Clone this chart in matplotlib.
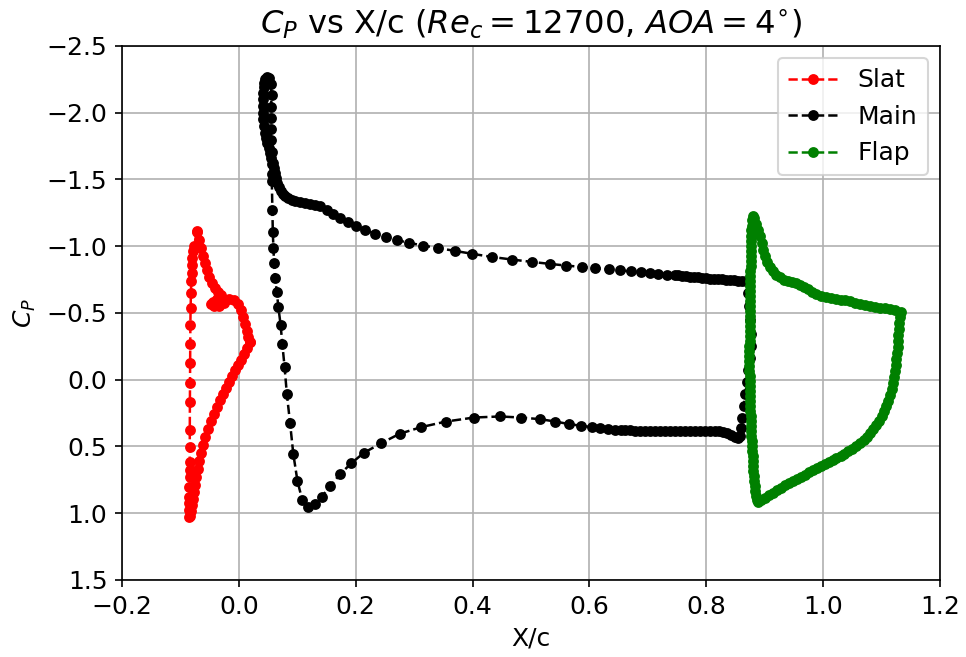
import matplotlib
matplotlib.use('Agg')
import matplotlib.pyplot as plt

# Slat: trailing edge -> lower curve -> stagnation -> dashed side -> suction peak -> back to TE
slat_x = [0.0194, 0.0143, 0.0092, 0.0041, -0.0010, -0.0061, -0.0112, -0.0164, -0.0215, -0.0266,
          -0.0317, -0.0368, -0.0419, -0.0470, -0.0521, -0.0572, -0.0606, -0.0641, -0.0675, -0.0700,
          -0.0726, -0.0743, -0.0760, -0.0777, -0.0794, -0.0811, -0.0828,
          -0.0845, -0.0845, -0.0845, -0.0845, -0.0845, -0.0843, -0.0842, -0.0840, -0.0840, -0.0840,
          -0.0838, -0.0836, -0.0834, -0.0832, -0.0830, -0.0826, -0.0820, -0.0815, -0.0810, -0.0806,
          -0.0800, -0.0790, -0.0770,
          -0.0715, -0.0709, -0.0675, -0.0641, -0.0606, -0.0572, -0.0538, -0.0504, -0.0453, -0.0402,
          -0.0351, -0.0300, -0.0368, -0.0436, -0.0470, -0.0419, -0.0334, -0.0249, -0.0164, -0.0078,
          -0.0010, 0.0041, 0.0075, 0.0109, 0.0135, 0.0160, 0.0194]
slat_cp = [-0.285, -0.240, -0.195, -0.150, -0.113, -0.075, -0.030, 0.015, 0.060, 0.105,
           0.150, 0.203, 0.255, 0.308, 0.368, 0.428, 0.488, 0.548, 0.608, 0.668,
           0.728, 0.788, 0.840, 0.893, 0.938, 0.983, 1.020,
           1.028, 0.975, 0.925, 0.875, 0.800, 0.725, 0.675, 0.613, 0.505, 0.375,
           0.167, 0.025, -0.125, -0.270, -0.413, -0.538, -0.650, -0.737, -0.800, -0.863,
           -0.913, -0.963, -1.000,
           -1.112, -1.110, -1.050, -0.990, -0.930, -0.878, -0.825, -0.773, -0.728, -0.690,
           -0.660, -0.638, -0.608, -0.585, -0.570, -0.555, -0.555, -0.578, -0.608, -0.600,
           -0.570, -0.525, -0.473, -0.420, -0.368, -0.323, -0.285]

# Main element: upper TE -> upper surface -> LE peak -> lower surface -> lower TE -> closing
main_x = [0.8678, 0.8610, 0.8542, 0.8474, 0.8406, 0.8337, 0.8269, 0.8201, 0.8133, 0.8065,
          0.7997, 0.7929, 0.7860, 0.7792, 0.7724, 0.7656, 0.7588, 0.7520, 0.7463, 0.7320,
          0.7179, 0.7038, 0.6877, 0.6707, 0.6526, 0.6327, 0.6101, 0.5872, 0.5607, 0.5317,
          0.5010, 0.4680, 0.4329, 0.3998, 0.3698, 0.3414, 0.3158, 0.2920, 0.2710, 0.2511,
          0.2324, 0.2153, 0.2000, 0.1869, 0.1727, 0.1613, 0.1501, 0.1387, 0.1302, 0.1216,
          0.1131, 0.1046, 0.0969, 0.0905, 0.0842, 0.0790, 0.0748, 0.0717, 0.0688, 0.0659,
          0.0637, 0.0620, 0.0603, 0.0581, 0.0557, 0.0535, 0.0511, 0.0489, 0.0467, 0.0450,
          0.0433, 0.0421, 0.0416, 0.0411, 0.0416, 0.0421, 0.0433, 0.0433, 0.0450, 0.0475,
          0.0509, 0.0543, 0.0560, 0.0552, 0.0543, 0.0543, 0.0552, 0.0569, 0.0569, 0.0564,
          0.0564, 0.0574, 0.0581, 0.0591, 0.0603, 0.0620, 0.0649, 0.0676, 0.0714, 0.0744,
          0.0782, 0.0821, 0.0876, 0.0932, 0.1003, 0.1083, 0.1182, 0.1302, 0.1416, 0.1566,
          0.1736, 0.1927, 0.2136, 0.2438, 0.2750, 0.3119, 0.3545, 0.4027, 0.4470, 0.4823,
          0.5147, 0.5419, 0.5646, 0.5862, 0.6043, 0.6186, 0.6315, 0.6441,
          0.6532, 0.6617, 0.6702, 0.6787, 0.6872, 0.6957, 0.7043, 0.7128, 0.7213, 0.7298,
          0.7383, 0.7468, 0.7554, 0.7639, 0.7724, 0.7809, 0.7894, 0.7979, 0.8065, 0.8150,
          0.8218, 0.8286, 0.8354, 0.8422, 0.8490, 0.8542, 0.8576, 0.8598, 0.8618, 0.8644,
          0.8669, 0.8695, 0.8721, 0.8746, 0.8766, 0.8772, 0.8755, 0.8738, 0.8721]
main_cp = [-0.737, -0.740, -0.743, -0.745, -0.747, -0.749, -0.752, -0.754, -0.756, -0.758,
           -0.761, -0.764, -0.767, -0.770, -0.773, -0.776, -0.779, -0.781, -0.782, -0.788,
           -0.793, -0.797, -0.805, -0.812, -0.820, -0.827, -0.835, -0.845, -0.855, -0.868,
           -0.883, -0.900, -0.920, -0.943, -0.965, -0.985, -1.005, -1.025, -1.045, -1.070,
           -1.095, -1.125, -1.150, -1.180, -1.213, -1.245, -1.275, -1.300, -1.311, -1.320,
           -1.326, -1.330, -1.337, -1.345, -1.358, -1.375, -1.393, -1.413, -1.444, -1.476,
           -1.513, -1.551, -1.588, -1.626, -1.663, -1.701, -1.738, -1.776, -1.813, -1.851,
           -1.901, -1.950, -2.001, -2.050, -2.101, -2.151, -2.191, -2.226, -2.255, -2.270,
           -2.262, -2.213, -2.130, -2.041, -1.958, -1.875, -1.793, -1.703, -1.613, -1.538,
           -1.488, -1.275, -1.108, -0.988, -0.874, -0.765, -0.660, -0.544, -0.413, -0.266,
           -0.098, 0.105, 0.323, 0.557, 0.759, 0.898, 0.951, 0.932, 0.878, 0.795,
           0.705, 0.625, 0.548, 0.475, 0.405, 0.355, 0.313, 0.283, 0.275, 0.283,
           0.295, 0.313, 0.332, 0.345, 0.355, 0.362, 0.370, 0.375,
           0.377, 0.379, 0.380, 0.381, 0.383, 0.383, 0.383, 0.383, 0.383, 0.383,
           0.383, 0.383, 0.383, 0.383, 0.383, 0.383, 0.383, 0.383, 0.383, 0.383,
           0.385, 0.390, 0.401, 0.416, 0.431, 0.439, 0.420, 0.360, 0.285, 0.195,
           0.105, 0.015, -0.075, -0.165, -0.255, -0.345, -0.450, -0.555, -0.653]

# Flap: TE -> upper surface -> LE peak -> LE column -> lower surface -> TE
flap_x = [1.1324, 1.1233, 1.1148, 1.1063, 1.0978, 1.0893, 1.0808, 1.0722, 1.0637, 1.0552,
          1.0467, 1.0382, 1.0297, 1.0212, 1.0126, 1.0041, 0.9956, 0.9871, 0.9802, 0.9734,
          0.9666, 0.9598, 0.9530, 0.9462, 0.9394, 0.9325, 0.9257, 0.9189, 0.9138, 0.9087,
          0.9044, 0.9007, 0.8976, 0.8946, 0.8917, 0.8883, 0.8854, 0.8823, 0.8806,
          0.8789, 0.8780, 0.8772, 0.8768, 0.8767, 0.8763, 0.8763, 0.8760, 0.8758, 0.8758,
          0.8756, 0.8755, 0.8755, 0.8753, 0.8751, 0.8751, 0.8750, 0.8748, 0.8746, 0.8746,
          0.8745, 0.8743, 0.8743, 0.8741, 0.8741, 0.8739, 0.8739, 0.8739, 0.8739, 0.8739,
          0.8739, 0.8741, 0.8741, 0.8743, 0.8745, 0.8746, 0.8748, 0.8751, 0.8755, 0.8758,
          0.8762, 0.8765, 0.8768, 0.8772, 0.8777, 0.8782, 0.8787, 0.8792, 0.8797, 0.8802,
          0.8807, 0.8814, 0.8821, 0.8828, 0.8836, 0.8848, 0.8865, 0.8890,
          0.8942, 0.9002, 0.9070, 0.9138, 0.9206, 0.9274, 0.9342, 0.9411, 0.9479, 0.9547,
          0.9615, 0.9683, 0.9751, 0.9819, 0.9888, 0.9956, 1.0024, 1.0092, 1.0160, 1.0228,
          1.0297, 1.0365, 1.0433, 1.0501, 1.0569, 1.0637, 1.0697, 1.0756, 1.0808, 1.0859,
          1.0910, 1.0961, 1.1004, 1.1046, 1.1080, 1.1114, 1.1145, 1.1170, 1.1193, 1.1211,
          1.1228, 1.1242, 1.1254, 1.1264, 1.1273, 1.1281, 1.1288, 1.1295, 1.1301, 1.1308,
          1.1318]
flap_cp = [-0.510, -0.521, -0.529, -0.535, -0.540, -0.545, -0.551, -0.559, -0.568, -0.578,
           -0.587, -0.595, -0.600, -0.606, -0.615, -0.623, -0.630, -0.645, -0.660, -0.679,
           -0.694, -0.709, -0.724, -0.733, -0.740, -0.750, -0.769, -0.788, -0.814, -0.848,
           -0.885, -0.925, -0.975, -1.028, -1.077, -1.125, -1.170, -1.212, -1.225,
           -1.193, -1.155, -1.118, -1.080, -1.043, -1.005, -0.968, -0.930, -0.893, -0.855,
           -0.818, -0.780, -0.743, -0.705, -0.668, -0.630, -0.593, -0.555, -0.518, -0.480,
           -0.443, -0.405, -0.368, -0.330, -0.293, -0.255, -0.218, -0.180, -0.143, -0.105,
           -0.068, -0.030, 0.008, 0.045, 0.083, 0.120, 0.158, 0.195, 0.233, 0.270,
           0.308, 0.345, 0.383, 0.420, 0.458, 0.495, 0.533, 0.570, 0.608, 0.645,
           0.683, 0.720, 0.758, 0.795, 0.833, 0.870, 0.900, 0.915,
           0.904, 0.885, 0.866, 0.848, 0.829, 0.810, 0.791, 0.773, 0.758, 0.743,
           0.728, 0.713, 0.694, 0.679, 0.664, 0.649, 0.634, 0.619, 0.604, 0.589,
           0.574, 0.555, 0.536, 0.518, 0.499, 0.476, 0.454, 0.428, 0.401, 0.371,
           0.341, 0.308, 0.274, 0.236, 0.199, 0.158, 0.113, 0.068, 0.023, -0.023,
           -0.068, -0.113, -0.158, -0.203, -0.248, -0.293, -0.338, -0.383, -0.428, -0.469,
           -0.503]

plt.rcParams['font.size'] = 12

fig = plt.figure(figsize=(6.44, 4.38))
fig.subplots_adjust(left=0.1263, right=0.9731, top=0.930, bottom=0.1172)

plt.plot(slat_x, slat_cp, 'r--o', lw=1.2, ms=4.2, label='Slat')
plt.plot(main_x, main_cp, 'k--o', lw=1.2, ms=4.2, label='Main')
plt.plot(flap_x, flap_cp, 'g--o', lw=1.2, ms=4.2, label='Flap')

plt.xlim(-0.2, 1.2)
plt.ylim(1.5, -2.5)
plt.title(r'$C_P$ vs X/c ($Re_c = 12700$, $AOA = 4^{\circ}$)', fontsize=15.5)
plt.xlabel('X/c')
plt.ylabel(r'$C_P$')
plt.legend(loc='upper right')
plt.grid(True)
plt.savefig('out.png', dpi=150)
